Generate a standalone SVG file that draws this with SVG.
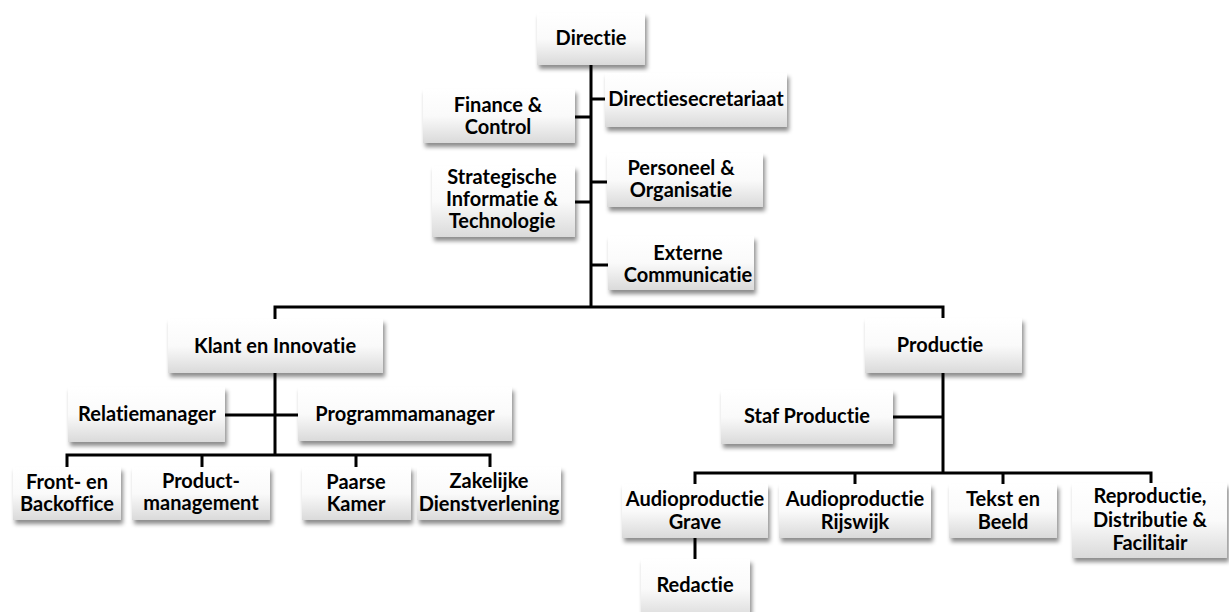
<svg xmlns="http://www.w3.org/2000/svg" width="1229" height="612" viewBox="0 0 1229 612">
<defs>
<linearGradient id="g" x1="0" y1="0" x2="0" y2="1">
<stop offset="0" stop-color="#ffffff"/>
<stop offset="0.5" stop-color="#fafafa"/>
<stop offset="1" stop-color="#dadada"/>
</linearGradient>
<filter id="sh" x="-10%" y="-10%" width="125%" height="135%">
<feDropShadow dx="2" dy="4" stdDeviation="2.2" flood-color="#000" flood-opacity="0.45"/>
</filter>
</defs>
<style>
.box{fill:url(#g);filter:url(#sh);}
.t{font-family:Lato,"Liberation Sans",sans-serif;font-weight:bold;font-size:20px;fill:#000;text-anchor:middle;font-variant-ligatures:none;font-feature-settings:"liga" 0;}
.c{stroke:#000;stroke-width:3;fill:none;}
</style>
<rect width="1229" height="612" fill="#fff"/>
<g id="connectors">
<path class="c" d="M591 65V307M591 99H605M575 117H591M575 202H591M591 182H607M591 265H608"/>
<path class="c" d="M275 319V307H943V318"/>
<path class="c" d="M275 373V455M225 415H298M67 467V455H490V467M202 455V467M356 455V467"/>
<path class="c" d="M943 373V473M893 417H943M695 484V473H1151V483M855 473V484M1003 473V484M695 538V559"/>
</g>
<g id="n-directie"><rect class="box" x="537" y="13" width="108" height="52"/><text class="t" x="591" y="45">Directie</text></g>
<g id="n-secretariaat"><rect class="box" x="605" y="73" width="182" height="54"/><text class="t" x="696" y="106">Directiesecretariaat</text></g>
<g id="n-finance"><rect class="box" x="423" y="89" width="152" height="54"/><text class="t" x="498" y="112">Finance &amp;<tspan x="498" y="134">Control</tspan></text></g>
<g id="n-strategische"><rect class="box" x="432" y="166" width="143" height="71"/><text class="t" x="502" y="184">Strategische<tspan x="502" y="206">Informatie &amp;</tspan><tspan x="502" y="228">Technologie</tspan></text></g>
<g id="n-personeel"><rect class="box" x="607" y="153" width="156" height="54"/><text class="t" x="681" y="175">Personeel &amp;<tspan x="681" y="197">Organisatie</tspan></text></g>
<g id="n-externe"><rect class="box" x="608" y="236" width="146" height="54"/><text class="t" x="688" y="260">Externe<tspan x="688" y="282">Communicatie</tspan></text></g>
<g id="n-klant"><rect class="box" x="168" y="319" width="215" height="54"/><text class="t" x="275" y="353">Klant en Innovatie</text></g>
<g id="n-relatie"><rect class="box" x="68" y="387" width="157" height="55"/><text class="t" x="147" y="421">Relatiemanager</text></g>
<g id="n-programma"><rect class="box" x="298" y="387" width="214" height="54"/><text class="t" x="405" y="421">Programmamanager</text></g>
<g id="n-front"><rect class="box" x="13" y="467" width="108" height="53"/><text class="t" x="67" y="489">Front- en<tspan x="67" y="511">Backoffice</tspan></text></g>
<g id="n-product"><rect class="box" x="132" y="467" width="138" height="53"/><text class="t" x="201" y="488">Product-<tspan x="201" y="510">management</tspan></text></g>
<g id="n-paarse"><rect class="box" x="302" y="467" width="109" height="53"/><text class="t" x="356" y="489">Paarse<tspan x="356" y="511">Kamer</tspan></text></g>
<g id="n-zakelijke"><rect class="box" x="417" y="467" width="144" height="53"/><text class="t" x="489" y="488">Zakelijke<tspan x="489" y="511">Dienstverlening</tspan></text></g>
<g id="n-productie"><rect class="box" x="865" y="318" width="157" height="55"/><text class="t" x="940" y="352">Productie</text></g>
<g id="n-staf"><rect class="box" x="721" y="390" width="172" height="54"/><text class="t" x="807" y="423">Staf Productie</text></g>
<g id="n-grave"><rect class="box" x="622" y="484" width="146" height="54"/><text class="t" x="695" y="506">Audioproductie<tspan x="695" y="529">Grave</tspan></text></g>
<g id="n-rijswijk"><rect class="box" x="779" y="484" width="152" height="54"/><text class="t" x="855" y="506">Audioproductie<tspan x="855" y="529">Rijswijk</tspan></text></g>
<g id="n-tekst"><rect class="box" x="949" y="484" width="108" height="54"/><text class="t" x="1003" y="506">Tekst en<tspan x="1003" y="529">Beeld</tspan></text></g>
<g id="n-reproductie"><rect class="box" x="1072" y="483" width="155" height="75"/><text class="t" x="1150" y="503">Reproductie,<tspan x="1150" y="527">Distributie &amp;</tspan><tspan x="1150" y="550">Facilitair</tspan></text></g>
<g id="n-redactie"><rect class="box" x="641" y="559" width="109" height="60"/><text class="t" x="695" y="592">Redactie</text></g>
</svg>
